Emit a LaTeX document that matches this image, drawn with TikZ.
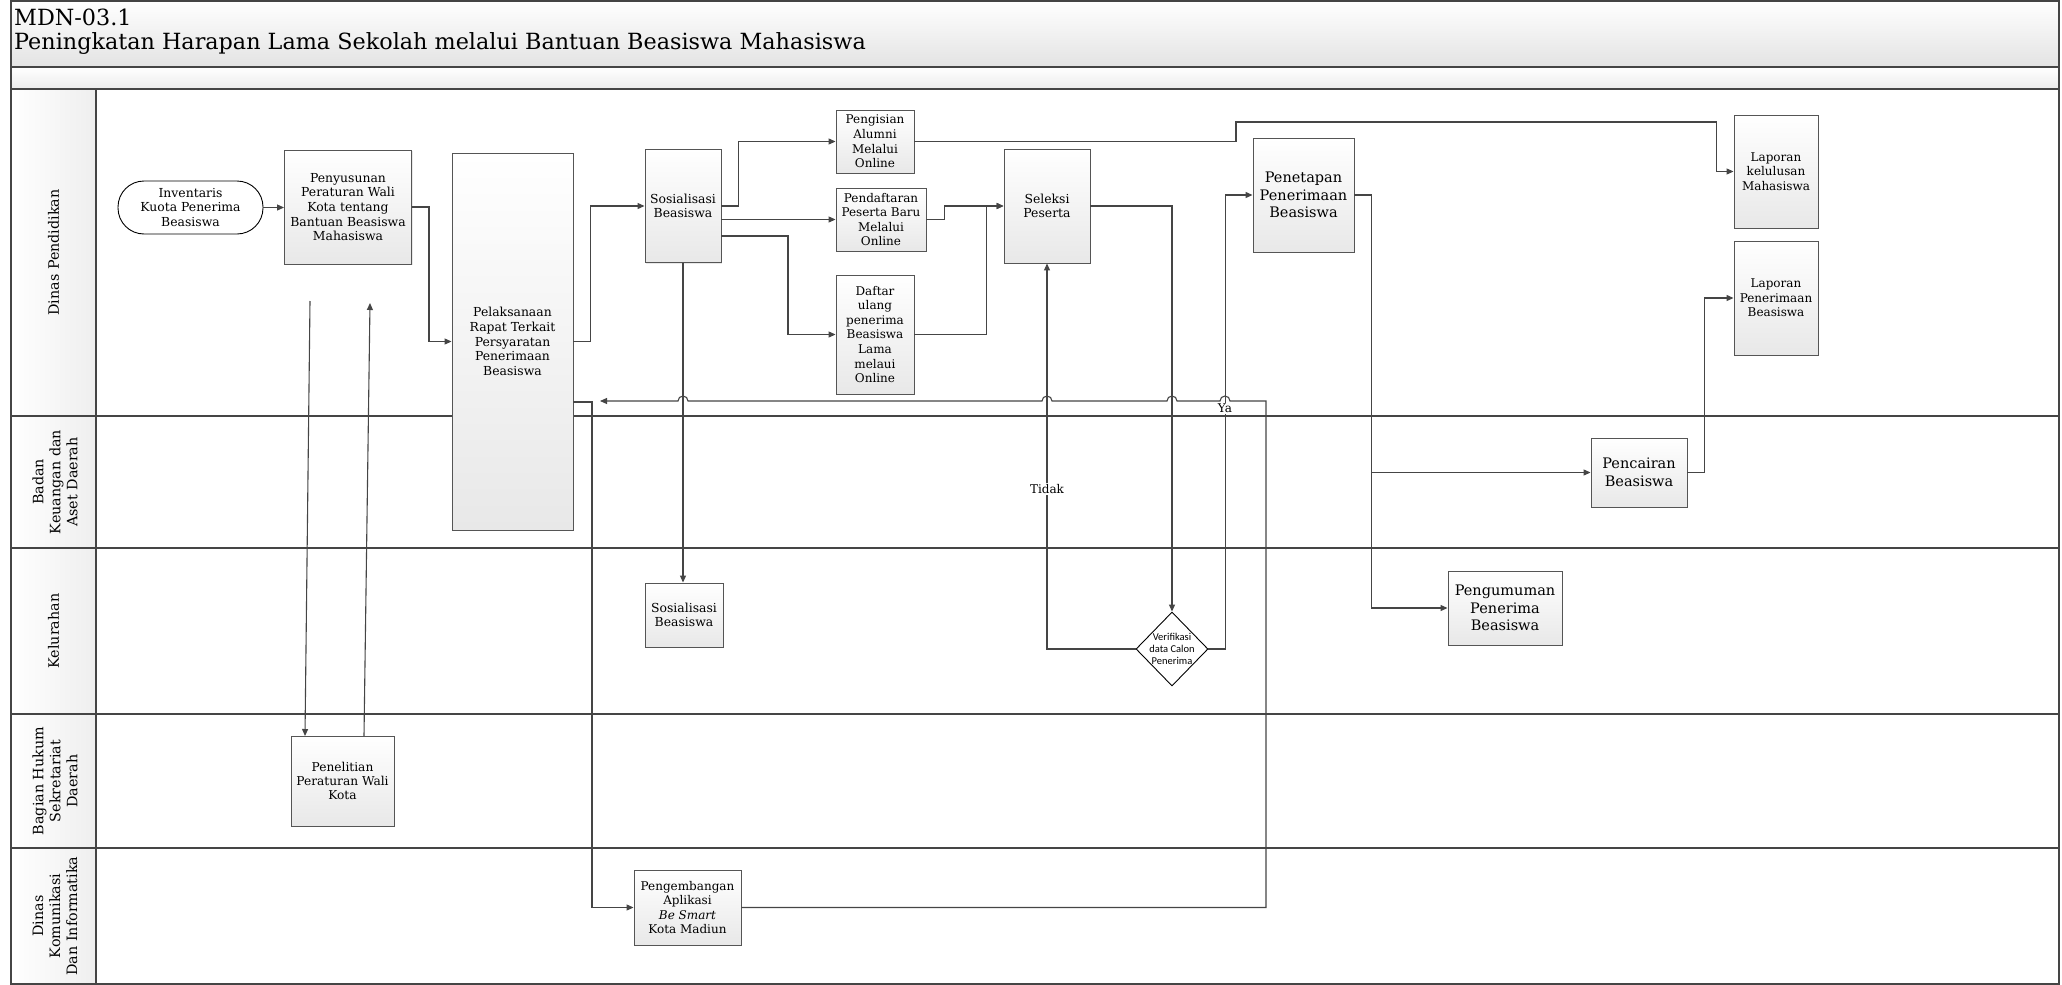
\documentclass[tikz,border=0pt]{standalone}
\usepackage{fontspec}
\setmainfont{DejaVu Serif}
\newfontfamily\carl{Carlito}
\usetikzlibrary{arrows.meta,shapes.geometric,shadows,calc}
\definecolor{ln}{HTML}{454545}
\definecolor{bx}{HTML}{555555}
\definecolor{shd}{HTML}{E8E8E8}
\newcommand\fz[2]{\fontsize{#1}{#2}\selectfont}
\begin{document}
\begin{tikzpicture}[x=1pt,y=-1pt,
  proc/.style={draw=bx, line width=0.9pt, top color=white, bottom color=shd, align=center, inner sep=1pt,
    font=\fz{12.4}{14.6}, drop shadow={shadow xshift=1.2pt,shadow yshift=-1.2pt,fill=black!18}},
  sz/.style 2 args={minimum width=#1pt, minimum height=#2pt},
  big/.style={font=\fz{14.5}{17.5}},
  small/.style={font=\fz{12}{14.3}},
  hdr/.style={rotate=90, align=center, font=\fz{14.3}{17}},
  lane/.style={draw=ln, line width=1.2pt},
  conn/.style={draw=ln, line width=1.1pt},
  arr/.style={conn, -{Triangle[length=7pt,width=6pt]}},
  lbl/.style={fill=white, inner sep=1pt, font=\fz{12}{14}}]
\useasboundingbox (0,0) rectangle (2062,985);
% bands
\shade[top color=white, bottom color=gray!22] (11,1) rectangle (2059,67);
\shade[top color=white, bottom color=gray!15] (11,67) rectangle (2059,89);
\foreach \a/\b in {89/416,416/548,548/714,714/848,848/984}{
  \shade[left color=white, right color=gray!13] (11,\a) rectangle (96,\b);
}
\draw[lane] (11,1) rectangle (2059,984);
\draw[lane] (11,67) -- (2059,67);
\draw[lane] (11,89) -- (2059,89);
\foreach \yy in {416,548,714,848}{ \draw[lane] (11,\yy) -- (2059,\yy); }
\draw[lane] (96,89) -- (96,984);
\node[anchor=north west, align=left, inner sep=0pt, font=\fz{22.3}{23.5}] (title) at (14,9)
  {MDN-03.1\\Peningkatan Harapan Lama Sekolah melalui Bantuan Beasiswa Mahasiswa};
% lane headers
\node[hdr] (h1) at (53.5,252.5) {Dinas Pendidikan};
\node[hdr] (h2) at (55,482) {Badan\\Keuangan dan\\Aset Daerah};
\node[hdr] (h3) at (53.5,631) {Kelurahan};
\node[hdr] (h4) at (55,781) {Bagian Hukum\\Sekretariat\\Daerah};
\node[hdr] (h5) at (55,916) {Dinas\\Komunikasi\\Dan Informatika};
% nodes
\node[draw=black, line width=0.9pt, fill=white, rounded corners=26pt, sz={145}{53}, align=center, inner sep=1pt, font=\fz{12.4}{14.6}]
  (inv) at (190.5,207.5) {Inventaris\\Kuota Penerima\\Beasiswa};
\node[proc, sz={127}{114}] (peny) at (348,207) {Penyusunan\\Peraturan Wali\\Kota tentang\\Bantuan Beasiswa\\Mahasiswa};
\node[proc, sz={121}{377}] (pelak) at (512.5,341.5) {Pelaksanaan\\Rapat Terkait\\Persyaratan\\Penerimaan\\Beasiswa};
\node[proc, sz={76}{113}] (sos1) at (683,206) {Sosialisasi\\Beasiswa};
\node[proc, sz={78}{63}, font=\fz{12}{14.6}] (pengal) at (875,141.5) {Pengisian\\Alumni\\Melalui\\Online};
\node[proc, sz={90}{63}, font=\fz{12}{14.6}] (pendaf) at (881,219.5) {Pendaftaran\\Peserta Baru\\Melalui\\Online};
\node[proc, sz={78}{119}, font=\fz{12}{14.6}] (daftar) at (875,334.5) {Daftar\\ulang\\penerima\\Beasiswa\\Lama\\melaui\\Online};
\node[proc, sz={86}{114}] (sel) at (1047,206) {Seleksi\\Peserta};
\node[proc, big, sz={101}{114}] (pen) at (1303.5,195) {Penetapan\\Penerimaan\\Beasiswa};
\node[proc, small, sz={84}{113}] (lapk) at (1776,171.5) {Laporan\\kelulusan\\Mahasiswa};
\node[proc, small, sz={84}{114}] (lapp) at (1776,298) {Laporan\\Penerimaan\\Beasiswa};
\node[proc, big, sz={96}{69}] (pencair) at (1639,472.5) {Pencairan\\Beasiswa};
\node[proc, sz={78}{64}] (sos2) at (684,615) {Sosialisasi\\Beasiswa};
\node[draw=black, line width=0.9pt, fill=white, diamond, aspect=1, inner sep=-5pt, sz={72}{74}, align=center, font=\carl\fz{10.5}{12}]
  (verif) at (1172,649) {Verifikasi\\data Calon\\Penerima};
\node[proc, big, sz={114}{74}] (pengum) at (1505,608) {Pengumuman\\Penerima\\Beasiswa};
\node[proc, sz={103}{90}, font=\fz{12.2}{14.4}] (penel) at (342.5,781) {Penelitian\\Peraturan Wali\\Kota};
\node[proc, sz={107}{75}, font=\fz{12}{14.4}] (pengem) at (687.5,907.5) {Pengembangan\\Aplikasi\\\textit{Be Smart}\\Kota Madiun};
% connectors
\draw[arr] (inv.east) -- (inv.east -| peny.west);
\draw[arr] (peny.east) -- ++(17,0) |- (pelak.west);
\draw[arr] (pelak.east) -- ++(17,0) |- (sos1.west);
\draw[arr] (sos1.east) -- ++(17,0) |- (pengal.west);
\draw[arr] (sos1.east |- pendaf.west) -- (pendaf.west);
\draw[arr] (sos1.east |- 0,236) -| (788,300) |- (daftar.west);
\draw[arr] (pendaf.east) -- ++(18,0) |- (sel.west);
\draw[arr] (daftar.east) -- ++(72,0) |- (sel.west);
\draw[arr] (pengal.east) -| (1236,122) -| ([xshift=-17pt]lapk.west) -- (lapk.west);
\draw[arr] (sel.east) -| (verif.north);
\draw[arr] (verif.west) -| (sel.south);
\draw[arr] (verif.east) -- ++(17,0) |- (pen.west);
\draw[arr] (pen.east) -- ++(17,0) |- (pengum.west);
\draw[arr] ([xshift=17pt]pen.east |- pencair.west) -- (pencair.west);
\draw[arr] (pencair.east) -- ++(17,0) |- (lapp.west);
\draw[arr] (sos1.south) -- (sos1.south |- sos2.north);
\coordinate (d0) at (310,301);
\coordinate (d1) at (305,736);
\coordinate (u0) at (364,736);
\coordinate (u1) at (370,303);
\draw[arr] (d0) -- (d1);
\draw[arr] (u0) -- (u1);
\draw[arr] (pelak.east |- 0,402) -- (592,402) |- (pengem.west);
\coordinate (ret) at (600,401);
\draw[arr] (pengem.east) -| (1266,401) -- (1230,401) arc[start angle=0,end angle=180,radius=5pt]
  -- (1177,401) arc[start angle=0,end angle=180,radius=5pt]
  -- (1052,401) arc[start angle=0,end angle=180,radius=5pt]
  -- (688,401) arc[start angle=0,end angle=180,radius=5pt]
  -- (ret);
\node[lbl] (ltidak) at (1047,489) {Tidak};
\node[lbl] (lya) at (1225,408.5) {Ya};
\end{tikzpicture}
\end{document}
